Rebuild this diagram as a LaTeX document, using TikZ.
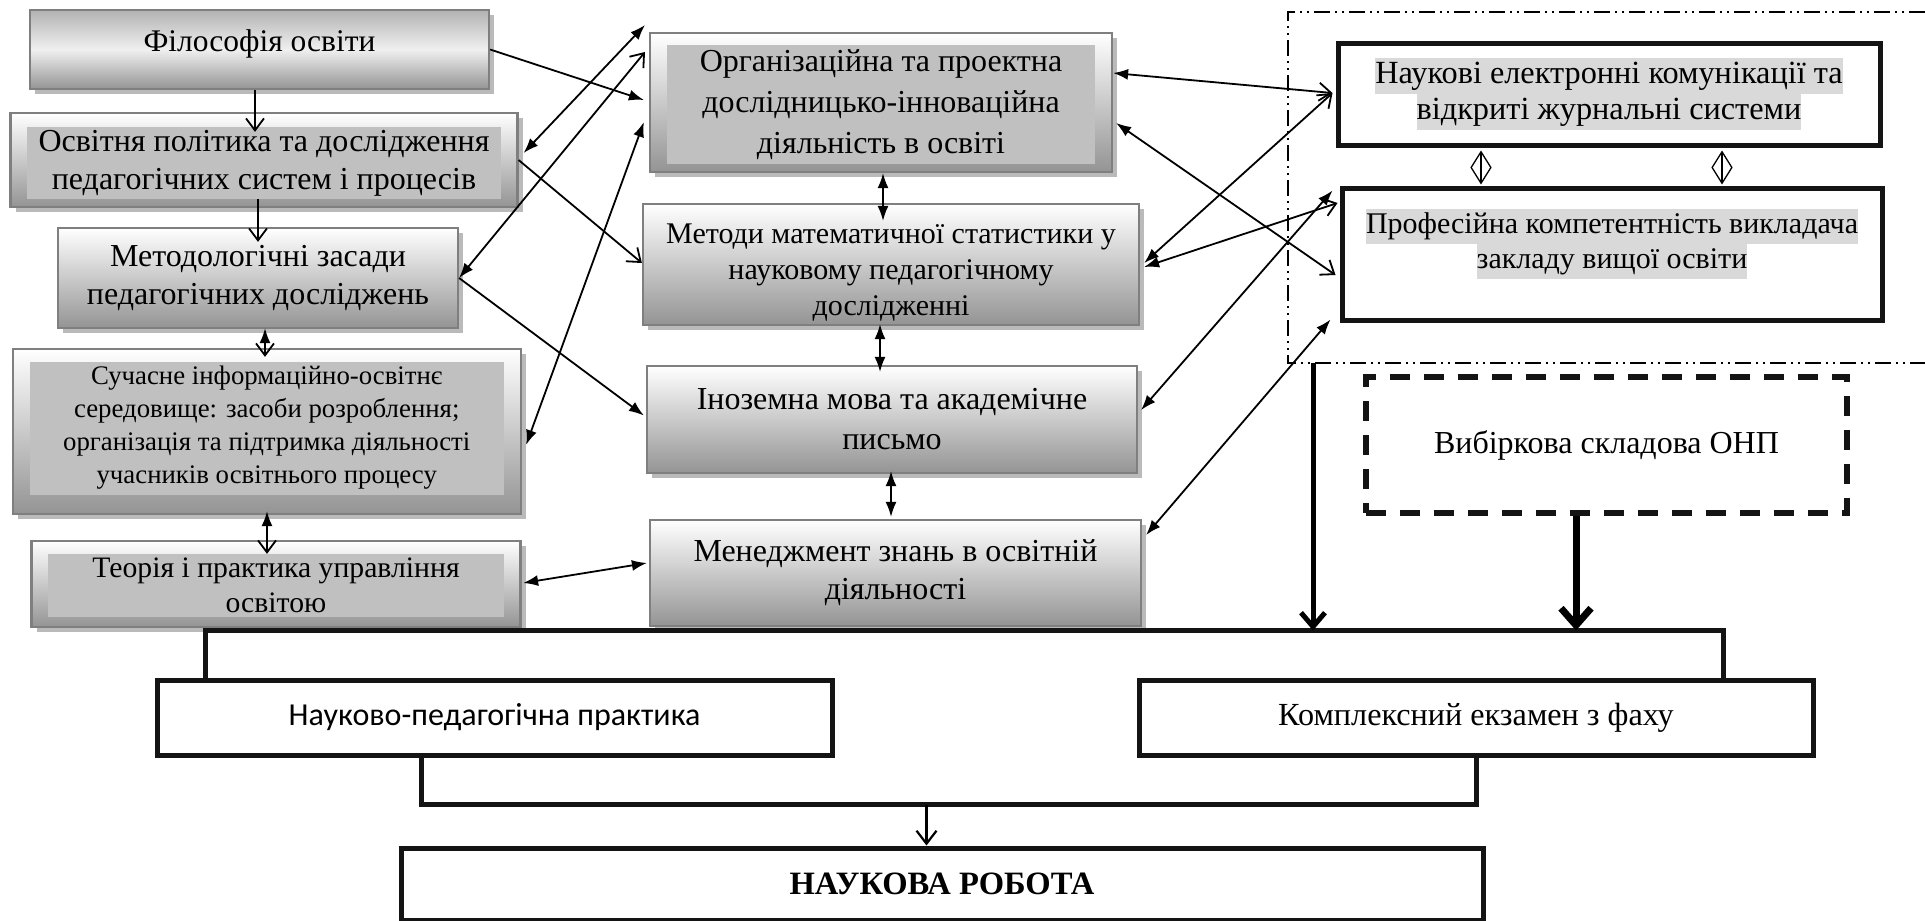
\documentclass[tikz,border=0pt]{standalone}
\usepackage{fontspec}
\setmainfont{Liberation Serif}
\newfontfamily\calibrifont{Carlito}
\usetikzlibrary{arrows.meta,shadows,calc}
\definecolor{innergray}{HTML}{C0C0C0}
\definecolor{hlgray}{HTML}{D9D9D9}
\definecolor{framegray}{HTML}{7F7F7F}
\newcommand\hlbox[1]{{\setlength{\fboxsep}{0pt}\colorbox{hlgray}{\strut #1}}}
\tikzset{
  fa/.tip={Latex[length=15pt,width=11pt]},
  oa/.tip={Straight Barb[length=12pt,width=18pt]},
  fs/.style 2 args={font=\fontsize{#1}{#2}\selectfont},
  gbox/.style={draw=framegray, line width=2.2pt, top color=white, bottom color=black!42,
    inner sep=0pt, align=center,
    drop shadow={shadow xshift=5pt, shadow yshift=-5pt, fill=black!27, opacity=1}},
  ibox/.style={fill=innergray, inner sep=0pt, align=center},
  tbox/.style={draw=black!92, line width=5pt, fill=white, inner sep=0pt, align=center},
  conn/.style={line width=1.8pt},
  bar/.style={line width=5pt, draw=black!92},
  grp/.style={line width=1.5pt, dash pattern=on 16pt off 5pt on 2pt off 5pt on 2pt off 5pt},
  hollow/.style={line width=1.3pt, {Straight Barb[length=16pt,width=20pt]}-{Straight Barb[length=16pt,width=20pt]}},
  thickarr/.style={line width=5pt, -{Straight Barb[length=14pt,width=24pt]}},
  thickerarr/.style={line width=7pt, -{Straight Barb[length=17pt,width=30pt]}},
}
\begin{document}
\begin{tikzpicture}[x=1pt,y=-1pt]
\useasboundingbox[fill=white] (0,0) rectangle (1925,921);

% ---------- left column ----------
\node[gbox, top color=black!30, bottom color=black!42, middle color=black!6,
      minimum width=459pt, minimum height=79pt] (fil) at (259.5,49.5) {};
\node[fs={31.5}{38}] (filt) at (259.5,44) {Філософія освіти};

\node[gbox, minimum width=507pt, minimum height=94pt] (osv) at (264,160) {};
\node[ibox, fs={32}{38}, minimum width=474pt, minimum height=72pt] (osvt) at (264,163)
  {Освітня політика та дослідження\\педагогічних систем і процесів};

\node[gbox, fs={32}{38}, minimum width=400pt, minimum height=100pt] (met) at (258,278)
  {Методологічні засади\\педагогічних досліджень};

\node[gbox, minimum width=508pt, minimum height=165pt] (such) at (267,431.5) {};
\node[ibox, fs={26.8}{33}, minimum width=474.5pt, minimum height=133pt] (sucht) at (266.75,428)
  {Сучасне інформаційно-освітнє\\середовище: засоби розроблення;\\організація та підтримка діяльності\\учасників освітнього процесу};

\node[gbox, minimum width=489pt, minimum height=86pt] (teor) at (276,584) {};
\node[ibox, fs={29.7}{35}, minimum width=456pt, minimum height=63pt] (teort) at (276,585)
  {Теорія і практика управління\\освітою};

% ---------- middle column ----------
\node[gbox, minimum width=462pt, minimum height=139pt] (org) at (881,102.5) {};
\node[ibox, fs={32}{41}, minimum width=428pt, minimum height=119pt] (orgt) at (881,104.5)
  {Організаційна та проектна\\дослідницько-інноваційна\\діяльність в освіті};

\node[gbox, minimum width=496pt, minimum height=121pt] (mat) at (891,264.5) {};
\node[fs={30}{36}, align=center] (matt) at (891,273)
  {Методи математичної статистики у\\науковому педагогічному\\дослідженні};

\node[gbox, fs={32}{40}, minimum width=490pt, minimum height=107pt] (ino) at (892,419.5)
  {Іноземна мова та академічне\\письмо};

\node[gbox, fs={32}{38}, minimum width=491pt, minimum height=106pt] (men) at (895.5,573)
  {Менеджмент знань в освітній\\діяльності};

% ---------- right group ----------
\coordinate (grptr) at (1925,12);
\coordinate (grptl) at (1288,12);
\coordinate (grpbl) at (1288,363);
\coordinate (grpbr) at (1925,363);
\draw[grp] (grptr) -- (grptl) -- (grpbl) -- (grpbr);

\node[tbox, fs={32.3}{36}, minimum width=542pt, minimum height=102pt] (nauk) at (1609,94)
  {\hlbox{Наукові електронні комунікації та}\\\hlbox{відкриті журнальні системи}};
\node[tbox, minimum width=540pt, minimum height=132pt] (prof) at (1612,254) {};
\node[fs={30}{35}, align=center] (proft) at (1612,244)
  {\hlbox{Професійна компетентність викладача}\\\hlbox{закладу вищої освіти}};

\node[draw=black!92, line width=6pt, dash pattern=on 20pt off 14pt, fs={32}{38},
      minimum width=481pt, minimum height=136pt] (vyb) at (1606.5,445) {Вибіркова складова ОНП};

% ---------- bottom ----------
\node[tbox, minimum width=675pt, minimum height=75pt, font=\calibrifont\fontsize{32}{38}\selectfont]
  (prak) at (494.5,717.5) {Науково-педагогічна практика};
\node[tbox, fs={32.2}{38}, minimum width=674pt, minimum height=75pt] (kompl) at (1476,717.5)
  {Комплексний екзамен з фаху};
\node[tbox, font=\bfseries\fontsize{32.6}{38}\selectfont, minimum width=1082pt, minimum height=72pt]
  (robota) at (942,884) {НАУКОВА РОБОТА};

\coordinate (tb) at ($(prak.north west)+(51,-47)$);
\draw[bar] ($(prak.north west)+(51,0)$) -- (tb) -| ($(kompl.north east)+(-92,0)$);
\coordinate (lb) at ($(prak.south west)+(267,47)$);
\draw[bar] ($(prak.south west)+(267,0)$) -- (lb) -| (kompl.south);
\coordinate (lbarrow) at ($(prak.south west)+(772,47)$);
\draw[conn, line width=2.2pt, -{Straight Barb[length=13pt,width=20pt]}] (lbarrow) -- (lbarrow |- robota.north);

\coordinate (grpout) at (1313,363);
\draw[thickarr] (grpout) -- (grpout |- tb);
\coordinate (vybout) at ($(vyb.south)+(-30.5,0)$);
\draw[thickerarr] (vybout) -- (vybout |- tb);

% ---------- vertical connectors ----------
\draw[conn, -{oa}] ($(fil.south)+(-4.5,0)$) -- ($(osv.north)+(-9,20)$);
\draw[conn, -{oa}] ($(osvt.south)+(-6,0)$) -- ($(met.north)+(0,15)$);
\draw[conn, {fa}-{oa}] ($(met.south)+(7,-1)$) -- ($(such.north)+(-2,9)$);
\draw[conn, {fa}-{oa}] ($(such.south)+(0,-4)$) -- ($(teor.north)+(-9,14)$);

\draw[conn, {fa}-{fa}] ($(org.south)+(2,0)$) -- ($(mat.north)+(-8,18)$);
\draw[conn, {fa}-{fa}] ($(mat.south)+(-11,-2)$) -- ($(ino.north)+(-12,7)$);
\draw[conn, {fa}-{fa}] ($(ino.south)+(-1,-3)$) -- ($(men.north)+(-4.5,-2)$);

\draw[hollow] ($(nauk.south)+(-128,3)$) -- ($(prof.north)+(-131,-1)$);
\draw[hollow] ($(nauk.south)+(113,3)$) -- ($(prof.north)+(110,-1)$);

% ---------- diagonal connectors ----------
\coordinate (freeA) at (645,25);
\coordinate (freeB) at (645,52);
\draw[conn, -{fa}] (fil.east) -- ($(org.west)+(-5,-2.5)$);
\draw[conn, {fa}-{fa}] ($(osv.east)+(5,-7)$) -- (freeA);
\draw[conn, {fa}-{oa}] (met.east) -- (freeB);
\draw[conn, -{oa}] (osv.east) -- ($(mat.west)+(0,-1.5)$);
\draw[conn, -{fa}] (met.east) -- ($(ino.west)+(-2,-4)$);
\draw[conn, {fa}-{fa}] ($(such.east)+(4,13.5)$) -- ($(org.west)+(-5,19.5)$);
\draw[conn, {fa}-{fa}] ($(teor.east)+(1.5,-1)$) -- ($(men.west)+(-2,-10)$);

\draw[conn, {fa}-{oa}] ($(org.east)+(0,-29.5)$) -- ($(nauk.west)+(-3,-1)$);
\draw[conn, {fa}-{oa}] ($(org.east)+(3,20.5)$) -- ($(prof.west)+(-4,21)$);
\draw[conn, {fa}-{oa}] ($(mat.east)+(4,-1.5)$) -- ($(nauk.west)+(-3,-1)$);
\draw[conn, {fa}-{oa}] ($(mat.east)+(4,2.5)$) -- ($(prof.west)+(-2,-51)$);
\draw[conn, {fa}-{fa}] ($(ino.east)+(3,-9.5)$) -- ($(prof.north west)+(-7,5)$);
\draw[conn, {fa}-{fa}] ($(men.east)+(4,-38)$) -- ($(prof.south west)+(-9,-3)$);
\end{tikzpicture}
\end{document}
